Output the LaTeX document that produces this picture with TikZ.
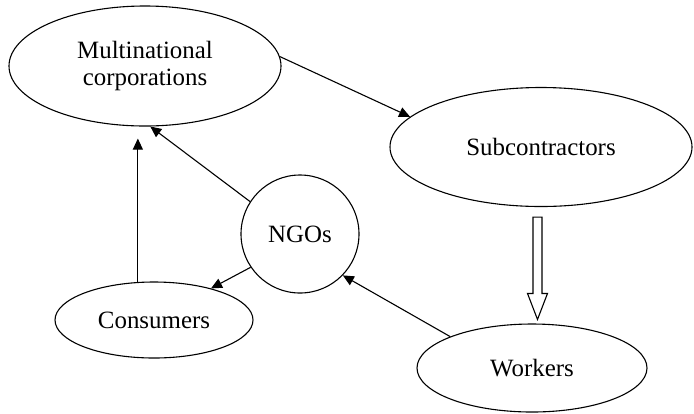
\documentclass[tikz,border=0pt]{standalone}
\usepackage{fontspec}
\setmainfont{Liberation Serif}
\usetikzlibrary{shapes.geometric,arrows.meta,calc}
\begin{document}
\begin{tikzpicture}[x=1bp,y=-1bp,
  lw/.style={line width=1.1bp},
  oval/.style={lw,draw,ellipse,inner sep=0pt,align=center,font=\fontsize{25}{28}\selectfont},
  circ/.style={lw,draw,circle,inner sep=0pt,font=\fontsize{25}{28}\selectfont},
  conn/.style={lw,-{Triangle[length=11bp,width=10bp]}},
  hollow/.style={lw,draw,fill=white,line join=miter}]
\useasboundingbox (0,0) rectangle (694,413);
\node[oval,minimum width=272bp,minimum height=120bp] (mnc) at (145,66) {Multinational\\corporations};
\node[oval,minimum width=302bp,minimum height=119bp] (sub) at (541,147) {Subcontractors};
\node[circ,minimum size=118bp] (ngo) at (300,234) {NGOs};
\node[oval,minimum width=198bp,minimum height=76bp] (cons) at (154,320) {Consumers};
\node[oval,minimum width=230bp,minimum height=88bp] (wrk) at (532,368) {Workers};
\draw[conn] (mnc.4.7) -- (sub.167.8);
\draw[conn] (ngo.147.6) -- (mnc.-85);
\draw[conn,shorten >=12bp] (cons.113) -- (cons.113 |- mnc.south);
\draw[conn] (ngo.214.5) -- (cons.29.6);
\draw[conn] (wrk.159.3) -- (ngo.-44.4);
\coordinate (hs) at ($(sub.south)+(-3.5,10)$);
\coordinate (he) at ($(wrk.north)+(5.5,-4)$);
\draw[hollow] ($(hs)+(-4.5,0)$) -- ($(hs)+(4.5,0)$) -- ($(he)+(4.5,-26)$) -- ($(he)+(10,-26)$) -- (he)
  -- ($(he)+(-10,-26)$) -- ($(he)+(-4.5,-26)$) -- cycle;
\end{tikzpicture}
\end{document}
